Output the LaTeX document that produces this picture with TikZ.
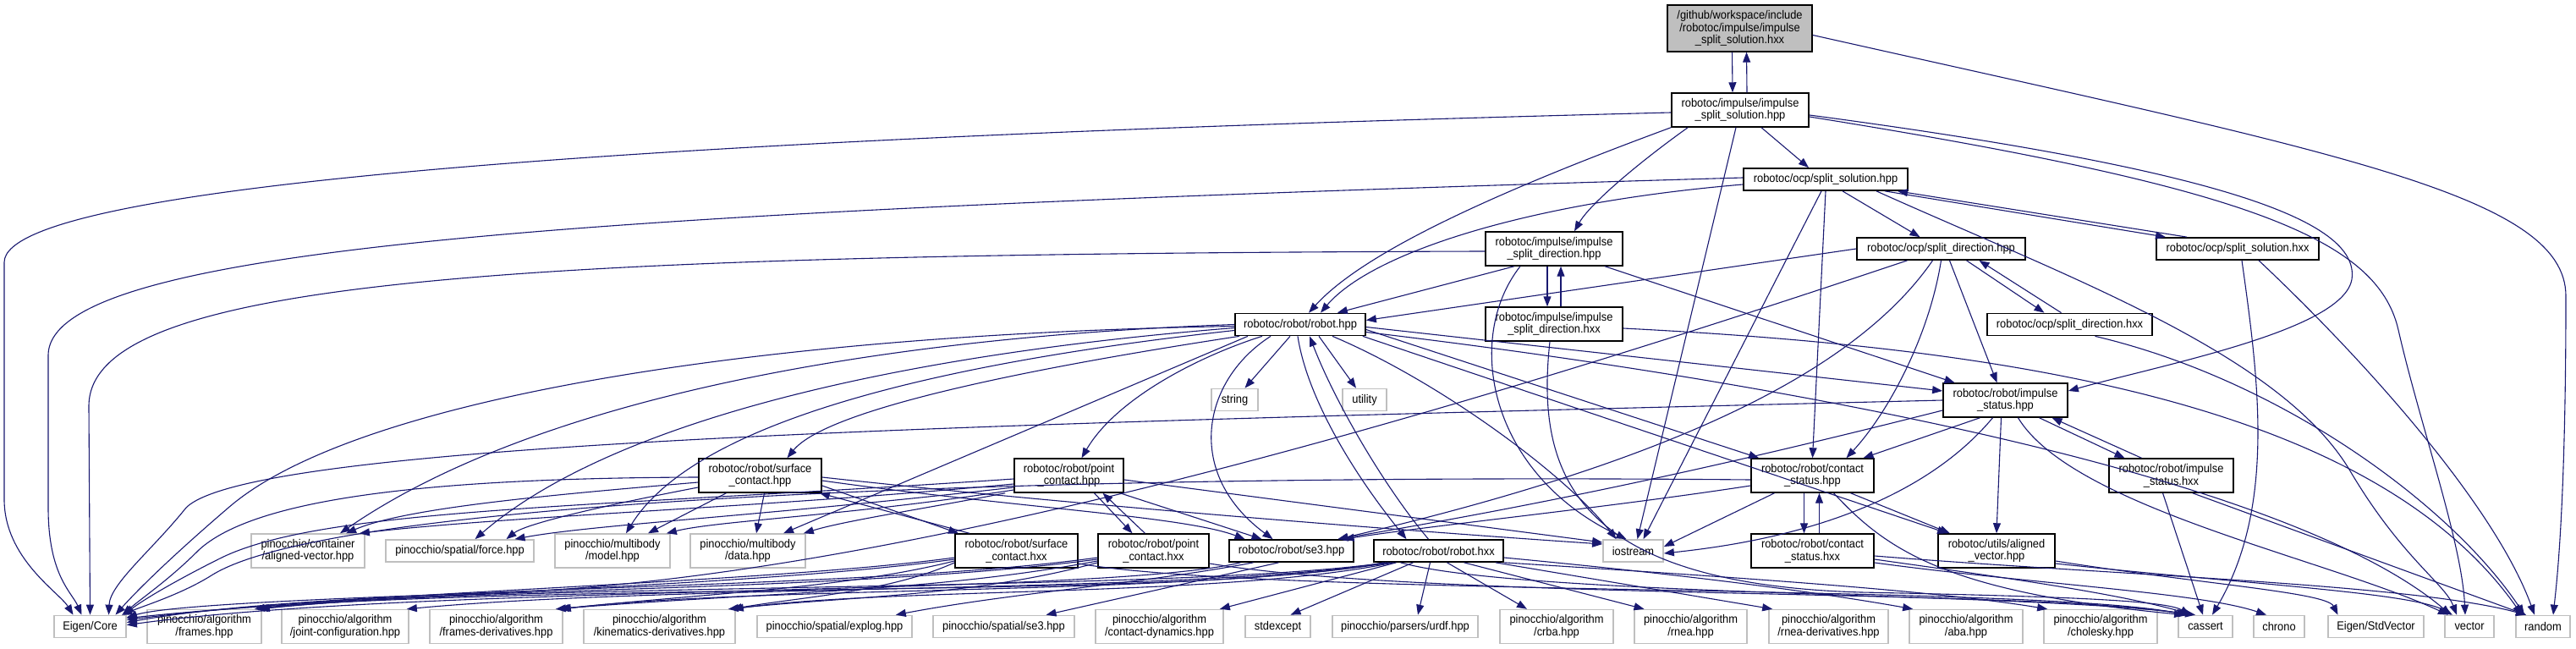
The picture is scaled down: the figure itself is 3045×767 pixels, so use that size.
\documentclass[tikz,border=0pt]{standalone}
\usepackage{fontspec}
\setmainfont[FakeStretch=0.92]{Liberation Sans}
\usetikzlibrary{arrows.meta}
\definecolor{edgeblue}{HTML}{191970}
\definecolor{boxgray}{HTML}{BFBFBF}

\begin{document}
\begin{tikzpicture}[x=1pt, y=-1pt,
  font=\fontsize{14}{14.7}\selectfont,
  box/.style={rectangle, line width=1.7pt, inner xsep=0pt, inner ysep=6pt,
    minimum height=26pt, align=center},
  hdr/.style={box, draw=black},
  sys/.style={box, draw=boxgray},
  cur/.style={box, draw=black, fill=boxgray},
  edge/.style={draw=edgeblue, line width=1.1pt, line join=round,
    -{Triangle[length=12pt,width=9pt]}}
]
\useasboundingbox (0,0) rectangle (3045,767);

% current file and headers
\node[cur, minimum width=171] (top) at (2056.5,33.5) {/github/workspace/include\\/robotoc/impulse/impulse\\\_split\_solution.hxx};
\node[hdr, minimum width=162] (isshpp) at (2057,130) {robotoc/impulse/impulse\\\_split\_solution.hpp};
\node[hdr, minimum width=194] (sshpp) at (2158,212) {robotoc/ocp/split\_solution.hpp};
\node[hdr, minimum width=162] (isdhpp) at (1837,294) {robotoc/impulse/impulse\\\_split\_direction.hpp};
\node[hdr, minimum width=199] (sdhpp) at (2294.5,294) {robotoc/ocp/split\_direction.hpp};
\node[hdr, minimum width=192] (sshxx) at (2645,294) {robotoc/ocp/split\_solution.hxx};
\node[hdr, minimum width=154] (robothpp) at (1537,383.5) {robotoc/robot/robot.hpp};
\node[hdr, minimum width=162] (isdhxx) at (1837,383) {robotoc/impulse/impulse\\\_split\_direction.hxx};
\node[hdr, minimum width=195] (sdhxx) at (2446.5,383.5) {robotoc/ocp/split\_direction.hxx};
\node[hdr, minimum width=147] (ishpp) at (2370.5,473) {robotoc/robot/impulse\\\_status.hpp};
\node[sys, minimum width=55] (string) at (1459.5,472.5) {string};
\node[sys, minimum width=52] (utility) at (1613,472.5) {utility};
\node[hdr, minimum width=145] (schpp) at (898.5,562) {robotoc/robot/surface\\\_contact.hpp};
\node[hdr, minimum width=129] (pchpp) at (1263.5,562) {robotoc/robot/point\\\_contact.hpp};
\node[hdr, minimum width=145] (cshpp) at (2142.5,562) {robotoc/robot/contact\\\_status.hpp};
\node[hdr, minimum width=147] (ishxx) at (2566.5,562) {robotoc/robot/impulse\\\_status.hxx};

% middle row
\node[sys, minimum width=134] (pinaligned) at (364,651) {pinocchio/container\\/aligned-vector.hpp};
\node[sys, minimum width=175] (force) at (543.5,651) {pinocchio/spatial/force.hpp};
\node[sys, minimum width=136] (model) at (724,651) {pinocchio/multibody\\/model.hpp};
\node[sys, minimum width=136] (data) at (884,651) {pinocchio/multibody\\/data.hpp};
\node[hdr, minimum width=145] (schxx) at (1201.5,651) {robotoc/robot/surface\\\_contact.hxx};
\node[hdr, minimum width=131] (pchxx) at (1363.5,651) {robotoc/robot/point\\\_contact.hxx};
\node[hdr, minimum width=147] (se3hpp) at (1526.5,651) {robotoc/robot/se3.hpp};
\node[hdr, minimum width=153] (robothxx) at (1700.5,651) {robotoc/robot/robot.hxx};
\node[sys, minimum width=71] (iostream) at (1930.5,651) {iostream};
\node[hdr, minimum width=145] (cshxx) at (2142.5,651) {robotoc/robot/contact\\\_status.hxx};
\node[hdr, minimum width=138] (avhpp) at (2360,651) {robotoc/utils/aligned\\\_vector.hpp};

% bottom row
\node[sys, minimum width=85] (eigencore) at (106.5,740.5) {Eigen/Core};
\node[sys, minimum width=135] (frames) at (241.5,740.5) {pinocchio/algorithm\\/frames.hpp};
\node[sys, minimum width=150] (jointconf) at (408,740.5) {pinocchio/algorithm\\/joint-configuration.hpp};
\node[sys, minimum width=157] (framesder) at (586.5,740.5) {pinocchio/algorithm\\/frames-derivatives.hpp};
\node[sys, minimum width=179] (kinder) at (779.5,740.5) {pinocchio/algorithm\\/kinematics-derivatives.hpp};
\node[sys, minimum width=183] (explog) at (986.5,740.5) {pinocchio/spatial/explog.hpp};
\node[sys, minimum width=167] (pinse3) at (1186.5,740.5) {pinocchio/spatial/se3.hpp};
\node[sys, minimum width=151] (contdyn) at (1370.5,740.5) {pinocchio/algorithm\\/contact-dynamics.hpp};
\node[sys, minimum width=77] (stdexcept) at (1510.5,740.5) {stdexcept};
\node[sys, minimum width=172] (urdf) at (1661,740.5) {pinocchio/parsers/urdf.hpp};
\node[sys, minimum width=134] (crba) at (1840,740.5) {pinocchio/algorithm\\/crba.hpp};
\node[sys, minimum width=133] (rnea) at (1998.5,740.5) {pinocchio/algorithm\\/rnea.hpp};
\node[sys, minimum width=141] (rneader) at (2161.5,740.5) {pinocchio/algorithm\\/rnea-derivatives.hpp};
\node[sys, minimum width=134] (aba) at (2324,740.5) {pinocchio/algorithm\\/aba.hpp};
\node[sys, minimum width=134] (cholesky) at (2483,740.5) {pinocchio/algorithm\\/cholesky.hpp};
\node[sys, minimum width=64] (cassert) at (2607,740.5) {cassert};
\node[sys, minimum width=60] (chrono) at (2694,740.5) {chrono};
\node[sys, minimum width=113] (eigenstd) at (2808.5,740.5) {Eigen/StdVector};
\node[sys, minimum width=58] (vector) at (2919,740.5) {vector};
\node[sys, minimum width=64] (random) at (3006,740.5) {random};

% impulse_split_solution.hxx
\draw[edge] ([xshift=-9]top.south) -- ([xshift=-9]isshpp.north);
\draw[edge] ([xshift=8]isshpp.north) -- ([xshift=8]top.south);
\draw[edge] ([yshift=-8]top.east) .. controls (2760,180) and (3033,230) .. (3033,350) .. controls (3033,600) and (3022,690) .. ([xshift=12]random.north);

% impulse_split_solution.hpp
\draw[edge] ([yshift=-3]isshpp.west) .. controls (900,160) and (5,210) .. (5,310) -- (5,590) .. controls (5,660) and (70,700) .. ([xshift=-20]eigencore.north);
\draw[edge] (isshpp.south west) .. controls (1760,230) and (1610,300) .. ([xshift=10]robothpp.north);
\draw[edge] ([xshift=20]isshpp.south west) .. controls (1940,190) and (1880,240) .. ([xshift=24]isdhpp.north);
\draw[edge] ([xshift=25]isshpp.south) -- ([xshift=-20]sshpp.north);
\draw[edge] ([xshift=-5]isshpp.south) -- ([xshift=5]iostream.north);
\draw[edge] ([yshift=-6]isshpp.east) .. controls (2620,200) and (2790,260) .. (2780,330) .. controls (2770,390) and (2560,430) .. ([yshift=11]ishpp.east);
\draw[edge] ([yshift=-8]isshpp.east) .. controls (2650,220) and (2810,280) .. (2835,390) .. controls (2860,500) and (2910,640) .. ([xshift=-5]vector.north);

% split_solution.hpp
\draw[edge] ([yshift=2]sshpp.west) .. controls (700,250) and (57,290) .. (57,420) -- (57,600) .. controls (57,680) and (85,700) .. ([xshift=-10]eigencore.north);
\draw[edge] ([yshift=-6]sshpp.west) .. controls (1800,240) and (1620,300) .. ([xshift=24]robothpp.north);
\draw[edge] ([xshift=20]sshpp.south) -- ([xshift=-25]sdhpp.north);
\draw[edge] ([xshift=70]sshpp.south) -- ([xshift=-85]sshxx.north);
\draw[edge] ([xshift=-60]sshxx.north) -- ([xshift=85]sshpp.south);
\draw[edge] (sshpp.south) -- (cshpp.north);
\draw[edge] ([xshift=-5]sshpp.south) -- ([xshift=12]iostream.north);
\draw[edge] ([xshift=60]sshpp.south) .. controls (2450,330) and (2700,420) .. (2780,560) .. controls (2840,660) and (2890,690) .. ([xshift=-15]vector.north);
\draw[edge] ([xshift=5]sshxx.south) .. controls (2670,450) and (2690,600) .. ([xshift=8]cassert.north);
\draw[edge] ([xshift=25]sshxx.south) .. controls (2800,430) and (2950,600) .. ([xshift=-10]random.north);

% impulse_split_direction.hpp / .hxx
\draw[edge] ([yshift=-3]isdhpp.west) .. controls (600,300) and (105,330) .. (105,480) -- (eigencore.north);
\draw[edge] ([xshift=-47]isdhpp.south) -- ([xshift=-34]robothpp.north east);
\draw[edge] ([xshift=-8]isdhpp.south) -- ([xshift=-8]isdhxx.north);
\draw[edge] ([xshift=8]isdhxx.north) -- ([xshift=8]isdhpp.south);
\draw[edge] ([xshift=-40]isdhpp.south) .. controls (1730,400) and (1760,560) .. ([xshift=-8]iostream.north);
\draw[edge] ([xshift=60]isdhpp.south) -- ([xshift=-60]ishpp.north);
\draw[edge] ([yshift=-5]isdhxx.east) .. controls (2350,410) and (2800,470) .. ([xshift=-25]random.north);
\draw[edge] ([xshift=-5]isdhxx.south) .. controls (1815,560) and (1860,690) .. (2200,700) .. controls (2450,705) and (2560,710) .. ([xshift=-18]cassert.north);

% split_direction.hpp / .hxx
\draw[edge] (sdhpp.west) -- ([yshift=5]robothpp.east);
\draw[edge] ([xshift=30]sdhpp.south) -- ([xshift=-30]sdhxx.north);
\draw[edge] ([xshift=-10]sdhxx.north) -- ([xshift=45]sdhpp.south);
\draw[edge] ([xshift=10]sdhpp.south) -- ([xshift=-10]ishpp.north);
\draw[edge] (sdhpp.south) .. controls (2280,400) and (2230,490) .. ([xshift=40]cshpp.north);
\draw[edge] ([xshift=-10]sdhpp.south) .. controls (2200,430) and (2000,540) .. ([xshift=55]se3hpp.north);
\draw[edge] ([xshift=-40]sdhpp.south) .. controls (1800,460) and (1100,680) .. (600,700) .. controls (300,710) and (190,718) .. ([yshift=-3]eigencore.north east);
\draw[edge] ([xshift=30]sdhxx.south) .. controls (2700,450) and (2900,600) .. ([xshift=-22]random.north);

% robot.hpp
\draw[edge] ([xshift=-12]robothpp.south) -- ([xshift=12]string.north);
\draw[edge] ([xshift=22]robothpp.south) -- ([xshift=-10]utility.north);
\draw[edge] ([xshift=-45]robothpp.south) .. controls (1420,420) and (1320,470) .. ([xshift=15]pchpp.north);
\draw[edge] ([xshift=-72]robothpp.south) .. controls (1250,430) and (980,480) .. ([xshift=32]schpp.north);
\draw[edge] ([yshift=-2]robothpp.west) .. controls (900,395) and (420,470) .. (270,600) .. controls (200,660) and (160,700) .. ([xshift=30]eigencore.north);
\draw[edge] (robothpp.west) .. controls (1000,400) and (620,480) .. ([xshift=38]pinaligned.north);
\draw[edge] ([yshift=-4]robothpp.west) .. controls (1050,420) and (720,500) .. ([xshift=18]force.north);
\draw[edge] ([yshift=-7]robothpp.west) .. controls (1100,430) and (820,500) .. ([xshift=16]model.north);
\draw[edge] ([xshift=-62]robothpp.south) -- ([xshift=42]data.north);
\draw[edge] ([xshift=-35]robothpp.south) .. controls (1420,450) and (1400,560) .. ([xshift=-22]se3hpp.north);
\draw[edge] ([xshift=-3]robothpp.south) .. controls (1545,470) and (1600,560) .. ([xshift=-38]robothxx.north);
\draw[edge] ([xshift=-12]robothxx.north) .. controls (1640,580) and (1580,480) .. ([xshift=11]robothpp.south);
\draw[edge] ([xshift=38]robothpp.south) .. controls (1700,450) and (1850,560) .. ([xshift=-20]iostream.north);
\draw[edge] ([yshift=-3]robothpp.east) -- ([yshift=11]ishpp.west);
\draw[edge] ([yshift=-6]robothpp.east) -- ([xshift=10]cshpp.north west);
\draw[edge] ([xshift=-4]robothpp.south east) -- ([xshift=12]avhpp.north west);
\draw[edge] ([yshift=-9]robothpp.east) .. controls (2100,450) and (2700,560) .. ([xshift=-22]vector.north);

% surface_contact.hpp
\draw[edge] ([yshift=-2]schpp.west) .. controls (500,565) and (300,590) .. (235,650) .. controls (200,685) and (170,705) .. ([xshift=38]eigencore.north);
\draw[edge] ([yshift=-8]schpp.west) .. controls (650,585) and (480,600) .. ([xshift=45]pinaligned.north);
\draw[edge] ([yshift=-14]schpp.west) .. controls (700,600) and (620,620) .. ([xshift=55]force.north);
\draw[edge] ([xshift=-40]schpp.south) -- ([xshift=42]model.north);
\draw[edge] ([xshift=5]schpp.south) -- ([xshift=10]data.north);
\draw[edge] ([yshift=-12]schpp.east) -- ([xshift=5]schxx.north west);
\draw[edge] ([xshift=18]schxx.north west) -- ([xshift=-3]schpp.south east);
\draw[edge] ([yshift=-6]schpp.east) .. controls (1200,600) and (1400,610) .. ([xshift=-55]se3hpp.north);
\draw[edge] ([yshift=-2]schpp.east) .. controls (1300,600) and (1700,630) .. ([yshift=8]iostream.west);

% point_contact.hpp
\draw[edge] ([yshift=-4]pchpp.west) .. controls (700,600) and (380,600) .. (260,660) .. controls (200,690) and (165,712) .. ([xshift=-3]eigencore.north east);
\draw[edge] ([yshift=-10]pchpp.west) .. controls (900,600) and (600,610) .. ([xshift=-7]pinaligned.north east);
\draw[edge] ([yshift=-14]pchpp.west) .. controls (900,610) and (700,620) .. ([xshift=65]force.north);
\draw[edge] ([yshift=-17]pchpp.west) .. controls (1000,610) and (850,615) .. ([xshift=-5]model.north east);
\draw[edge] ([xshift=-10]pchpp.south west) .. controls (1100,600) and (1000,615) .. ([xshift=-3]data.north east);
\draw[edge] ([xshift=30]pchpp.south) -- ([xshift=-25]pchxx.north);
\draw[edge] ([xshift=-10]pchxx.north) -- ([xshift=40]pchpp.south);
\draw[edge] ([xshift=-5]pchpp.south east) -- ([xshift=-35]se3hpp.north);
\draw[edge] ([yshift=-5]pchpp.east) -- ([yshift=10]iostream.west);

% surface_contact.hxx and point_contact.hxx
\draw[edge] ([yshift=-8]schxx.west) .. controls (900,690) and (400,700) .. ([yshift=-6]eigencore.north east);
\draw[edge] ([yshift=-10]schxx.west) .. controls (900,692) and (500,700) .. ([xshift=-5]frames.north east);
\draw[edge] ([yshift=-12]schxx.west) .. controls (1000,695) and (850,700) .. ([xshift=-5]framesder.north east);
\draw[edge] ([yshift=-14]schxx.west) .. controls (1050,700) and (950,705) .. ([xshift=-5]kinder.north east);
\draw[edge] ([yshift=-15]schxx.east) .. controls (1500,705) and (2400,690) .. ([xshift=-22]cassert.north);
\draw[edge] ([yshift=-8]pchxx.west) .. controls (1000,700) and (400,690) .. ([yshift=-9]eigencore.north east);
\draw[edge] ([yshift=-10]pchxx.west) .. controls (1000,700) and (500,695) .. ([xshift=-9]frames.north east);
\draw[edge] ([yshift=-12]pchxx.west) .. controls (1100,700) and (900,700) .. ([xshift=-9]framesder.north east);
\draw[edge] ([yshift=-14]pchxx.west) .. controls (1150,705) and (1000,705) .. ([xshift=-9]kinder.north east);
\draw[edge] ([yshift=-15]pchxx.east) .. controls (1700,710) and (2400,695) .. ([xshift=-20]cassert.north);

% se3.hpp
\draw[edge] ([xshift=-60]se3hpp.south) .. controls (1300,705) and (500,690) .. ([yshift=-12]eigencore.north east);
\draw[edge] ([xshift=-45]se3hpp.south) .. controls (1350,690) and (1200,700) .. ([xshift=-20]explog.north east);
\draw[edge] ([xshift=-15]se3hpp.south) -- ([xshift=50]pinse3.north);

% robot.hxx
\draw[edge] ([xshift=-65]robothxx.south) .. controls (1400,712) and (600,682) .. ([yshift=-4]eigencore.north east);
\draw[edge] ([xshift=-62]robothxx.south) .. controls (1400,700) and (600,688) .. ([xshift=-3]frames.north east);
\draw[edge] ([xshift=-59]robothxx.south) .. controls (1400,702) and (800,690) .. ([xshift=-3]jointconf.north east);
\draw[edge] ([xshift=-56]robothxx.south) .. controls (1400,704) and (900,692) .. ([xshift=-3]framesder.north east);
\draw[edge] ([xshift=-53]robothxx.south) .. controls (1450,706) and (1050,694) .. ([xshift=-3]kinder.north east);
\draw[edge] ([xshift=-50]robothxx.south) -- ([xshift=-5]contdyn.north east);
\draw[edge] ([xshift=-30]robothxx.south) -- ([xshift=15]stdexcept.north);
\draw[edge] ([xshift=-10]robothxx.south) -- ([xshift=15]urdf.north);
\draw[edge] ([xshift=10]robothxx.south) -- ([xshift=-35]crba.north);
\draw[edge] ([xshift=30]robothxx.south) -- ([xshift=-55]rnea.north);
\draw[edge] ([xshift=-10]robothxx.south east) -- ([xshift=5]rneader.north west);
\draw[edge] ([yshift=-8]robothxx.east) .. controls (2000,680) and (2150,700) .. ([xshift=5]aba.north west);
\draw[edge] (robothxx.south east) .. controls (2100,685) and (2300,700) .. ([xshift=5]cholesky.north west);
\draw[edge] ([xshift=-45]robothxx.south) .. controls (1800,705) and (2400,700) .. ([xshift=-12]cassert.north);

% contact_status.hpp / .hxx
\draw[edge] ([yshift=-5]cshpp.west) .. controls (1300,560) and (400,585) .. (250,680) .. controls (215,702) and (170,716) .. ([xshift=-6]eigencore.north east);
\draw[edge] ([yshift=-12]cshpp.west) .. controls (1900,600) and (1700,620) .. ([xshift=62]se3hpp.north);
\draw[edge] ([xshift=-45]cshpp.south) -- ([yshift=5]iostream.east);
\draw[edge] ([xshift=-10]cshpp.south) -- ([xshift=-10]cshxx.north);
\draw[edge] ([xshift=8]cshxx.north) -- ([xshift=8]cshpp.south);
\draw[edge] ([xshift=45]cshpp.south) -- ([xshift=-55]avhpp.north);
\draw[edge] ([xshift=25]cshpp.south) .. controls (2230,650) and (2300,700) .. ([xshift=-25]cassert.north);
\draw[edge] ([yshift=-10]cshxx.east) .. controls (2350,680) and (2500,700) .. ([xshift=-15]cassert.north);
\draw[edge] ([yshift=-14]cshxx.east) .. controls (2400,690) and (2600,700) .. ([xshift=-15]chrono.north);
\draw[edge] ([yshift=-6]cshxx.east) .. controls (2500,680) and (2850,690) .. ([xshift=-20]random.north);

% impulse_status.hpp / .hxx
\draw[edge] (ishpp.west) .. controls (1200,500) and (300,520) .. (220,600) .. controls (180,650) and (130,690) .. ([xshift=22]eigencore.north);
\draw[edge] ([yshift=-12]ishpp.west) .. controls (2000,560) and (1800,600) .. ([xshift=55]se3hpp.north);
\draw[edge] ([xshift=-30]ishpp.south) -- ([xshift=60]cshpp.north);
\draw[edge] ([xshift=-15]ishpp.south) .. controls (2250,620) and (2050,645) .. ([yshift=-3]iostream.east);
\draw[edge] ([xshift=-5]ishpp.south) -- (avhpp.north);
\draw[edge] ([xshift=15]ishpp.south) .. controls (2450,600) and (2750,660) .. ([xshift=-25]vector.north);
\draw[edge] ([xshift=40]ishpp.south) -- ([xshift=-55]ishxx.north);
\draw[edge] ([xshift=-35]ishxx.north) -- ([xshift=55]ishpp.south);
\draw[edge] ([xshift=-10]ishxx.south) -- ([xshift=-3]cassert.north);
\draw[edge] ([xshift=25]ishxx.south) -- ([xshift=-20]random.north);

% aligned_vector.hpp
\draw[edge] ([yshift=-12]avhpp.east) .. controls (2600,690) and (2750,700) .. ([xshift=-45]eigenstd.north);
\draw[edge] ([yshift=-15]avhpp.east) .. controls (2650,690) and (2850,700) .. ([xshift=-20]vector.north);
\end{tikzpicture}
\end{document}
